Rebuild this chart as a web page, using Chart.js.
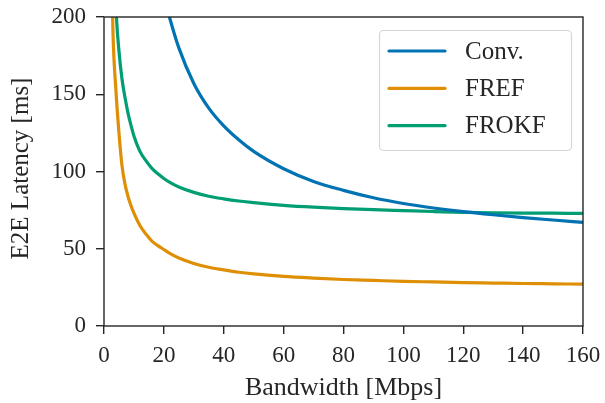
<!DOCTYPE html>
<html>
<head>
<meta charset="utf-8">
<script src="https://cdn.jsdelivr.net/npm/chart.js@4/dist/chart.umd.min.js"></script>
<style>
html,body{margin:0;padding:0;background:#fff;}
#wrap{width:605px;height:403px;position:relative;}
</style>
</head>
<body>
<div id="wrap"><canvas id="c" width="605" height="403"></canvas></div>
<script>
// ---- data ----
const bandwidth = [2,3,4,5,6,7,8,9,10,12,14,16,18,20,22,25,30,35,40,45,50,60,70,80,90,100,110,120,130,140,150,160];
const convLatency  = [null,null,null,null,null,null,null,null,null,null,null,255,232,214,199,180,157,141,129.5,120.5,113,101.8,93.6,87.8,83,79.3,76.4,74.0,72.0,70.2,68.6,67.1];
const frefLatency  = [290,190,152,125,104,92,84,78,73,65,59.5,55,52,49.5,47,44,40.5,38,36.3,34.8,33.7,32.1,31,30.1,29.5,28.9,28.5,28.1,27.8,27.5,27.3,27.1];
const frokfLatency = [null,280,207,178,160,148,138,130,123,113,107,102,98.5,95.5,93,90,86.5,84,82.3,80.9,79.8,78.1,76.9,76.0,75.3,74.7,74.1,73.6,73.3,73.1,73.0,72.9];
const seriesNames = ['Conv.','FREF','FROKF'];
const xTicks = [0,20,40,60,80,100,120,140,160];
const yTicks = [0,50,100,150,200];
const xTitle = 'Bandwidth [Mbps]';
const yTitle = 'E2E Latency [ms]';

const colors = ['#0173B2','#DE8F05','#029E73'];
const ink = '#262626';
const FONT = '"Liberation Serif", "Times New Roman", serif';

function pts(ys){ return bandwidth.map((x,i)=>({x:x,y:ys[i]})); }
const allSeries = [convLatency, frefLatency, frokfLatency];

const framePlugin = {
  id:'frame',
  afterDatasetsDraw(chart){
    const {ctx, chartArea:a} = chart;
    ctx.save();
    ctx.strokeStyle = ink; ctx.lineWidth = 1.4;
    ctx.strokeRect(a.left, a.top, a.right-a.left, a.bottom-a.top);
    // legend
    const bw = 192, bh = 120;
    const bx = a.right - 12 - bw, by = a.top + 13;
    ctx.beginPath();
    if (ctx.roundRect) ctx.roundRect(bx+0.5, by+0.5, bw, bh, 4); else ctx.rect(bx+0.5,by+0.5,bw,bh);
    ctx.fillStyle = 'rgba(255,255,255,0.8)'; ctx.fill();
    ctx.strokeStyle = '#d6d6d6'; ctx.lineWidth = 1.2; ctx.stroke();
    ctx.font = '25px ' + FONT;
    ctx.textBaseline = 'middle';
    ctx.textAlign = 'left';
    chart.data.datasets.forEach((ds,i)=>{
      const yy = by + 21 + i*37.3;
      ctx.strokeStyle = ds.borderColor; ctx.lineWidth = 3.2; ctx.lineCap='round';
      ctx.beginPath(); ctx.moveTo(bx+10, yy); ctx.lineTo(bx+66, yy); ctx.stroke();
      ctx.fillStyle = ink;
      ctx.fillText(ds.label, bx+86, yy+1);
    });
    // axis titles
    ctx.font = '26px ' + FONT;
    ctx.fillStyle = ink;
    ctx.textAlign = 'center'; ctx.textBaseline = 'middle';
    ctx.fillText(xTitle, (a.left+a.right)/2, 388);
    ctx.font = '25px ' + FONT;
    ctx.translate(21, (a.top+a.bottom)/2 - 3);
    ctx.rotate(-Math.PI/2);
    ctx.fillText(yTitle, 0, 0);
    ctx.restore();
  }
};

new Chart(document.getElementById('c'), {
  type:'line',
  data:{
    datasets: allSeries.map((ys,i)=>({
      label: seriesNames[i],
      data: pts(ys),
      borderColor: colors[i],
      backgroundColor: colors[i],
      borderWidth: 3.2,
      pointRadius: 0,
      cubicInterpolationMode: 'monotone',
      fill:false
    }))
  },
  options:{
    responsive:false,
    animation:false,
    devicePixelRatio:1,
    layout:{padding:{left:0,right:22,top:17,bottom:0}},
    plugins:{legend:{display:false}, tooltip:{enabled:false}},
    scales:{
      x:{
        type:'linear', min:0, max:160,
        afterBuildTicks(s){ s.ticks = xTicks.map(v=>({value:v})); },
        afterFit(s){ s.height = 77; s.paddingLeft = 0; s.paddingRight = 0; },
        grid:{display:true, drawOnChartArea:false, drawTicks:true, tickLength:8, color:ink, lineWidth:1.4},
        border:{display:false},
        ticks:{color:ink, font:{family:FONT, size:23}, padding:8, maxRotation:0}
      },
      y:{
        type:'linear', min:0, max:200,
        afterBuildTicks(s){ s.ticks = yTicks.map(v=>({value:v})); },
        afterFit(s){ s.width = 104; s.paddingTop = 0; s.paddingBottom = 0; },
        grid:{display:true, drawOnChartArea:false, drawTicks:true, tickLength:8, color:ink, lineWidth:1.4},
        border:{display:false},
        ticks:{color:ink, font:{family:FONT, size:23}, padding:10}
      }
    }
  },
  plugins:[framePlugin]
});
</script>
</body>
</html>
